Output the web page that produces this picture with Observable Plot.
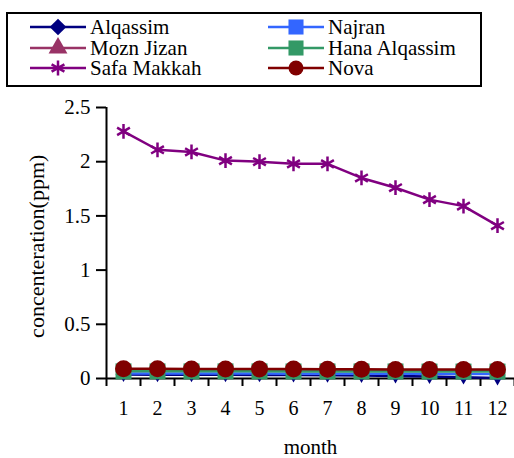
<!DOCTYPE html>
<html>
<head>
<meta charset="utf-8">
<script src="https://cdn.jsdelivr.net/npm/d3@7"></script>
<script src="https://cdn.jsdelivr.net/npm/@observablehq/plot@0.6"></script>
<style>
  html, body { margin: 0; padding: 0; background: #fff; }
  #wrap { position: relative; width: 514px; height: 458px; overflow: hidden; font-family: "Liberation Serif", serif; }
  #chart { position: absolute; left: 0; top: 0; }
  #legend { position: absolute; left: 6px; top: 12px; width: 472px; height: 71px; border: 2px solid #000; background: #fff; }
  .item { position: absolute; height: 18px; display: flex; align-items: center; font-family: "Liberation Serif", serif; font-size: 21px; line-height: 18px; color: #000; white-space: nowrap; }
  .item span { display: inline-block; height: 18px; line-height: 18px; }
  .item svg { margin-right: 4px; overflow: visible; }
  #chart svg text { font-family: "Liberation Serif", serif; }
</style>
</head>
<body>
<div id="wrap">
  <div id="chart"></div>
  <div id="legend"></div>
</div>
<script>
const months = [1,2,3,4,5,6,7,8,9,10,11,12];
const seriesNames = ["Alqassim","Najran","Mozn Jizan","Hana Alqassim","Safa Makkah","Nova"];
const seriesColors = ["#000080","#3366FF","#993366","#339966","#800080","#800000"];
const seriesSymbols = ["diamond","square","triangle","square","asterisk","circle"];
const alqassim = [0.036,0.035,0.034,0.034,0.033,0.032,0.030,0.027,0.022,0.018,0.012,0.004];
const najran   = [0.046,0.046,0.045,0.045,0.045,0.044,0.044,0.044,0.043,0.043,0.042,0.042];
const moznJizan = [0.078,0.078,0.077,0.077,0.077,0.076,0.076,0.075,0.075,0.074,0.074,0.073];
const hanaAlqassim = [0.066,0.066,0.066,0.066,0.066,0.065,0.065,0.065,0.065,0.064,0.064,0.064];
const safaMakkah = [2.28,2.11,2.09,2.01,2.00,1.98,1.98,1.85,1.76,1.65,1.59,1.41];
const nova = [0.089,0.089,0.088,0.088,0.087,0.087,0.086,0.085,0.084,0.083,0.083,0.082];
const yTicks = [0,0.5,1,1.5,2,2.5];
const yLabel = "concenteration(ppm)";
const xLabel = "month";

const seriesValues = [alqassim, najran, moznJizan, hanaAlqassim, safaMakkah, nova];
const rows = [];
seriesNames.forEach((name, i) => months.forEach((m, j) => rows.push({series: name, month: m, value: seriesValues[i][j]})));

const FONT = "'Liberation Serif', serif";
const drawOrder = ["Safa Makkah","Alqassim","Najran","Mozn Jizan","Hana Alqassim","Nova"];
const symbolR = {"diamond": 4.5, "square": 6, "triangle": 6, "asterisk": 7, "circle": 8.5};
const sizeOverride = {"Hana Alqassim": 9};

const marks = [];
for (const name of drawOrder) {
  const i = seriesNames.indexOf(name);
  const data = rows.filter(d => d.series === name);
  const sym = seriesSymbols[i];
  const r = sizeOverride[name] ?? symbolR[sym];
  marks.push(Plot.line(data, {x: "month", y: "value", stroke: seriesColors[i], strokeWidth: 2.5}));
  if (sym === "asterisk") {
    marks.push(Plot.dot(data, {x: "month", y: "value", symbol: sym, r, stroke: seriesColors[i], strokeWidth: 2.5, fill: "none"}));
  } else {
    marks.push(Plot.dot(data, {x: "month", y: "value", symbol: sym, r, fill: seriesColors[i], stroke: "none"}));
  }
}

const chart = Plot.plot({
  width: 514,
  height: 458,
  marginLeft: 106,
  marginRight: 0,
  marginTop: 107,
  marginBottom: 80,
  style: {fontFamily: FONT, fontSize: "20px", color: "#000", background: "transparent", overflow: "visible"},
  x: {domain: [0.5, 12.5], axis: null},
  y: {domain: [0, 2.5], axis: null},
  marks: [
    Plot.axisY({ticks: yTicks, tickSize: 10, tickPadding: 6, strokeWidth: 2, label: null, tickFormat: d => String(d), fontSize: 21, fontFamily: FONT}),
    Plot.axisX({ticks: d3.range(0.5, 13, 1), tickSize: 8, strokeWidth: 2, tickFormat: () => "", label: null}),
    Plot.axisX({ticks: months, tickSize: 0, tickPadding: 22, label: null, tickFormat: d => String(d), fontSize: 20, fontFamily: FONT}),
    Plot.ruleX([0.5], {y1: 0, y2: 2.5, strokeWidth: 2, stroke: "#000"}),
    Plot.ruleY([0], {x1: 0.5, x2: 12.5, strokeWidth: 2, stroke: "#000"}),
    Plot.text([yLabel], {x: 0.5, y: 1.22, dx: -70, rotate: -90, fontSize: 22, fontFamily: FONT, fill: "#000"}),
    Plot.text([xLabel], {x: 6.5, y: 0, dy: 69, fontSize: 21, fontFamily: FONT, fill: "#000"}),
    ...marks
  ]
});
document.getElementById("chart").appendChild(chart);

// legend
const legend = document.getElementById("legend");
const legendOrder = ["Alqassim","Najran","Mozn Jizan","Hana Alqassim","Safa Makkah","Nova"];
const symMap = {diamond: d3.symbolDiamond2, square: d3.symbolSquare, triangle: d3.symbolTriangle, asterisk: d3.symbolAsterisk, circle: d3.symbolCircle};
legendOrder.forEach((name, k) => {
  const i = seriesNames.indexOf(name);
  const col = k % 2, row = Math.floor(k / 2);
  const div = document.createElement("div");
  div.className = "item";
  div.style.left = (col === 0 ? 22 : 260) + "px";
  div.style.top = (4 + row * 20.5) + "px";
  const sym = seriesSymbols[i];
  const r = sym === "asterisk" ? 7 : (sym === "square" ? 8.5 : (sym === "triangle" ? 7 : 7.5));
  const size = Math.PI * r * r;
  const path = d3.symbol(symMap[sym], size)();
  const svgNS = "http://www.w3.org/2000/svg";
  const svg = document.createElementNS(svgNS, "svg");
  svg.setAttribute("width", 56); svg.setAttribute("height", 18);
  const ln = document.createElementNS(svgNS, "line");
  ln.setAttribute("x1", 0); ln.setAttribute("x2", 56); ln.setAttribute("y1", 9); ln.setAttribute("y2", 9);
  ln.setAttribute("stroke", seriesColors[i]); ln.setAttribute("stroke-width", 2.5);
  svg.appendChild(ln);
  const p = document.createElementNS(svgNS, "path");
  p.setAttribute("d", path);
  p.setAttribute("transform", "translate(28,9)");
  if (sym === "asterisk") { p.setAttribute("fill", "none"); p.setAttribute("stroke", seriesColors[i]); p.setAttribute("stroke-width", 2.5); }
  else p.setAttribute("fill", seriesColors[i]);
  svg.appendChild(p);
  div.appendChild(svg);
  const span = document.createElement("span");
  span.textContent = name;
  div.appendChild(span);
  legend.appendChild(div);
});
</script>
</body>
</html>
